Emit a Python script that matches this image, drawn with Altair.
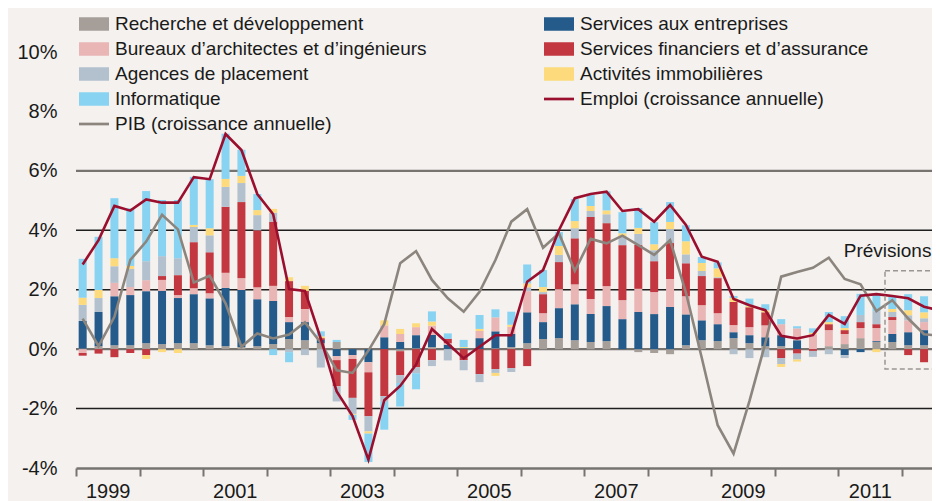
import altair as alt
import pandas as pd

# ---------------- data ----------------
quarters = [f"{y}T{q}" for y in range(1999, 2013) for q in range(1, 5)][:55]

bar_series = [
    "Recherche et développement",
    "Services aux entreprises",
    "Bureaux d’architectes et d’ingénieurs",
    "Services financiers et d’assurance",
    "Agences de placement",
    "Activités immobilières",
    "Informatique",
]
line_series = ["Emploi (croissance annuelle)", "PIB (croissance annuelle)"]

rd = [0.02, 0.10, 0.13, 0.13, 0.20, 0.17, 0.20, 0.20, 0.13, 0.10, 0.07, 0.10, 0.17, 0.34,
      0.30, 0.20, 0.24, 0.00, 0.00, 0.00, -0.07, 0.03, 0.07, 0.00, 0.00, 0.00, 0.03, 0.07,
      0.20, 0.34, 0.37, 0.30, 0.24, 0.27, 0.00, -0.10, -0.13, -0.17, 0.13, 0.30, 0.27, 0.37,
      0.20, 0.10, 0.10, 0.00, 0.00, 0.10, 0.17, 0.37, 0.24, 0.24, 0.13, 0.13, 0.13]
sae = [0.93, 1.15, 1.65, 1.69, 1.75, 1.79, 1.52, 1.65, 1.58, 1.96, 1.92, 1.58, 1.45, 0.57,
       0.61, 0.11, -0.24, -0.20, -0.44, 0.40, 0.24, 0.44, 0.41, 0.15, 0.03, 0.37, 0.57, 0.44,
       1.04, 0.57, 1.01, 1.21, 0.94, 1.18, 1.01, 1.25, 1.18, 1.42, 1.04, 0.67, 0.57, 0.20,
       0.27, 0.30, 0.37, 0.30, 0.00, 0.00, -0.20, -0.10, 0.03, 0.27, 0.44, 0.51, 0.85]
bur = [-0.13, 0.00, 0.45, 0.27, 0.37, 0.37, 0.10, 0.20, 0.17, 0.51, 0.40, 0.40, 0.51, 0.17,
       0.44, 0.00, -0.13, -0.13, -0.34, 0.40, 0.27, 0.27, 0.31, 0.05, 0.00, 0.24, 0.47, 0.24,
       0.71, 0.30, 0.64, 0.67, 0.51, 0.67, 0.64, 0.78, 0.74, 0.94, 0.61, 0.51, 0.37, 0.24,
       0.27, 0.40, 0.37, 0.40, 0.50, 0.54, 0.34, 0.34, 0.44, 0.47, 0.40, 0.27, 0.20]
sfa = [-0.09, -0.15, -0.27, -0.13, -0.20, 0.13, 0.67, 1.55, 1.38, 2.22, 2.56, 1.92, 2.16, 1.21,
       0.61, 0.06, -0.88, -1.31, -1.48, -1.58, -0.81, -0.61, -0.37, 0.15, -0.37, -0.84, -0.67, -0.64,
       -0.57, 0.64, 0.91, 1.55, 2.76, 2.12, 1.85, 1.48, 1.04, 1.21, 1.11, 0.98, 1.18, 0.78,
       0.67, 0.44, -0.30, -0.15, -0.06, 0.20, 0.13, 0.20, 0.13, 0.10, -0.20, -0.44, -0.55]
age = [0.54, 0.47, 0.56, 0.61, 0.64, 0.67, 0.57, 0.51, 0.57, 0.67, 0.64, 0.51, 0.30, -0.10,
       -0.20, -0.62, -0.51, -0.54, -0.51, -0.20, -0.26, -0.20, -0.20, -0.38, -0.34, -0.27, -0.13, -0.13,
       0.13, 0.07, 0.24, 0.34, 0.20, 0.30, 0.30, 0.37, 0.37, 0.47, 0.30, 0.17, 0.03, -0.17,
       -0.30, -0.27, -0.20, -0.20, -0.20, -0.17, -0.10, 0.24, 0.44, 0.17, 0.17, 0.13, 0.10]
imm = [0.24, 0.27, 0.27, 0.10, -0.13, -0.10, -0.13, 0.07, 0.24, 0.27, 0.24, 0.17, 0.13, 0.13,
       0.17, 0.06, 0.00, -0.03, -0.07, 0.17, 0.17, 0.13, 0.14, 0.00, 0.04, 0.07, -0.10, 0.07,
       0.13, 0.17, 0.30, 0.24, 0.17, 0.13, 0.10, 0.20, 0.20, 0.24, 0.44, 0.27, 0.30, 0.13,
       0.05, 0.07, -0.10, -0.07, 0.05, 0.07, 0.07, 0.00, -0.10, 0.10, 0.17, 0.20, 0.05]
inf = [1.31, 1.79, 2.02, 1.94, 2.36, 1.89, 1.96, 1.62, 1.65, 1.52, 0.88, 0.54, -0.20, -0.34,
       0.00, 0.17, 0.07, -0.17, -0.96, -0.93, -0.79, -0.54, 0.34, 0.18, 0.24, 0.47, 0.27, 0.44,
       0.64, 0.57, 0.47, 0.74, 0.37, 0.64, 0.71, 0.67, 0.74, 0.67, 0.54, 0.20, 0.20, 0.07,
       0.24, 0.20, 0.17, 0.07, 0.15, 0.34, 0.40, 0.71, 0.60, 0.42, 0.54, 0.54, 0.50]

emploi = [2.85, 3.67, 4.82, 4.66, 5.04, 4.93, 4.93, 5.79, 5.72, 7.24, 6.70, 5.22, 4.54, 2.02,
          1.96, 0.35, -1.42, -2.25, -3.72, -1.72, -1.24, -0.52, 0.68, 0.19, -0.31, 0.08, 0.47, 0.47,
          2.27, 2.66, 4.00, 5.08, 5.22, 5.30, 4.65, 4.71, 4.29, 4.85, 4.18, 3.11, 2.94, 1.69,
          1.48, 1.31, 0.45, 0.36, 0.47, 1.15, 0.85, 1.80, 1.85, 1.79, 1.71, 1.43, 1.30]
pib = [1.03, 0.10, 1.09, 3.00, 3.62, 4.52, 4.03, 2.24, 2.47, 1.54, 0.08, 0.53, 0.36, 0.49,
       0.90, 0.22, -0.71, -0.80, -0.05, 0.85, 2.89, 3.30, 2.33, 1.71, 1.26, 1.93, 3.00, 4.29,
       4.71, 3.41, 3.90, 2.63, 3.71, 3.56, 3.82, 3.50, 3.17, 3.67, 1.90, -0.30, -2.56, -3.52,
       -1.75, 0.20, 2.44, 2.60, 2.74, 3.08, 2.36, 2.18, 1.28, 1.65, 1.03, 0.50, 0.45]

bar_colors = ["#a69f99", "#245b8b", "#e9b5b5", "#c33740", "#b3c1cf", "#fddb7c", "#88d3f1"]
emploi_color = "#9b0f2e"
pib_color = "#8c857e"

grid_dark = [-2, 2, 4]
grid_grey = [0, 6]

forecast = pd.DataFrame({"debut": [2011.74], "fin": [2013.2], "haut": [2.64], "bas": [-0.67]})
forecast_label = pd.DataFrame({"t": [2011.09], "v": [3.11], "txt": ["Prévisions"]})

# ---------------- tables ----------------
def qpos(lab):
    y, q = lab.split("T")
    return int(y) + (int(q) - 1) * 0.25 + 0.105

rows = []
for k, (name, vals) in enumerate(zip(bar_series, [rd, sae, bur, sfa, age, imm, inf])):
    for lab, v in zip(quarters, vals):
        rows.append({"trimestre": lab, "t": qpos(lab), "serie": name, "valeur": v, "ordre": k})
bars_df = pd.DataFrame(rows)
lines_df = pd.DataFrame({"trimestre": quarters, "t": [qpos(q) for q in quarters],
                         "emploi": emploi, "pib": pib})

# legend entries, listed column by column (left column first)
legend_order = [bar_series[0], bar_series[2], bar_series[4], bar_series[6], line_series[1],
                bar_series[1], bar_series[3], bar_series[5], line_series[0]]
color_of = dict(zip(bar_series, bar_colors))
color_of[line_series[0]] = emploi_color
color_of[line_series[1]] = pib_color
legend_df = pd.DataFrame({"serie": legend_order})

RECT = "M-1,-0.45H1V0.45H-1Z"
LINE = "M-1,-0.09H1V0.09H-1Z"

FONT = "Liberation Sans"
XDOM = [1999, 2012.48]
xs = alt.Scale(domain=XDOM, nice=False, zero=False, padding=0)
ys = alt.Scale(domain=[-4, 10], nice=False, zero=False, padding=0)
fill_scale = alt.Scale(domain=bar_series, range=bar_colors)
cs = alt.Scale(domain=legend_order, range=[color_of[s] for s in legend_order])
ss = alt.Scale(domain=legend_order,
               range=[LINE if s in line_series else RECT for s in legend_order])

X_AXIS = alt.Axis(values=list(range(1999, 2013)), format="d",
                  labelExpr="datum.value % 2 == 1 ? datum.label : ''",
                  labelOffset=31.75, labelFontSize=20, labelFont=FONT,
                  labelColor="#1a1a1a", labelPadding=5, labelOverlap=False,
                  labelFlush=False, labelBound=False,
                  tickSize=8, tickWidth=2, tickColor="#777470",
                  domainColor="#777470", domainWidth=2.5, grid=False, title=None)
Y_AXIS = alt.Axis(values=list(range(-4, 11, 2)), labelExpr="datum.value + '%'",
                  labelFontSize=20, labelFont=FONT, labelColor="#1a1a1a",
                  labelPadding=19, ticks=False, domain=False, grid=False, title=None)

legend = alt.Legend(
    title=None, orient="none", legendX=3, legendY=-43, columns=2,
    symbolSize=900, symbolStrokeWidth=0, symbolOpacity=1,
    labelFont=FONT, labelFontSize=19, labelColor="#1a1a1a", labelOffset=6,
    labelLimit=400, rowPadding=-2, columnPadding=117, padding=0,
)


def X(field):
    return alt.X(field, scale=xs, axis=X_AXIS, title=None)


def Y(field):
    return alt.Y(field, scale=ys, axis=Y_AXIS, title=None)


rules_dark = alt.Chart(pd.DataFrame({"v": grid_dark})).mark_rule(
    color="#1e1e1e", strokeWidth=1.6).encode(y=Y("v:Q"))
rules_grey = alt.Chart(pd.DataFrame({"v": grid_grey})).mark_rule(
    color="#777470", strokeWidth=2.4).encode(y=Y("v:Q"))

bars = alt.Chart(bars_df).mark_bar(size=8).encode(
    x=X("t:Q"),
    y=alt.Y("valeur:Q", stack="zero", scale=ys, axis=Y_AXIS, title=None),
    fill=alt.Fill("serie:N", scale=fill_scale, legend=None),
    order=alt.Order("ordre:Q", sort="ascending"),
)

legend_layer = alt.Chart(legend_df).mark_point(filled=True, opacity=0).encode(
    color=alt.Color("serie:N", scale=cs, legend=legend),
    shape=alt.Shape("serie:N", scale=ss, legend=legend),
)

pib_line = alt.Chart(lines_df).mark_line(color=pib_color, strokeWidth=2.6).encode(
    x=X("t:Q"), y=Y("pib:Q"))
emp_line = alt.Chart(lines_df).mark_line(color=emploi_color, strokeWidth=2.6).encode(
    x=X("t:Q"), y=Y("emploi:Q"))

box = alt.Chart(forecast).mark_rect(
    fillOpacity=0, stroke="#9a9693", strokeWidth=1.5, strokeDash=[5, 3], clip=True).encode(
    x=X("debut:Q"), x2="fin:Q", y=Y("haut:Q"), y2="bas:Q")
box_text = alt.Chart(forecast_label).mark_text(
    align="left", baseline="alphabetic", fontSize=19, font=FONT, color="#1a1a1a").encode(
    x=X("t:Q"), y=Y("v:Q"), text="txt:N")

chart = alt.layer(rules_dark, rules_grey, bars, pib_line, emp_line, box, box_text,
                  legend_layer).properties(
    width=856, height=416,
    autosize=alt.AutoSizeParams(type="none"),
    padding={"left": 68, "top": 44, "right": 0, "bottom": 33},
).configure(background="#f4f1ee").configure_view(stroke=None)

chart.save("out.html", embed_options={"renderer": "svg", "actions": False})
